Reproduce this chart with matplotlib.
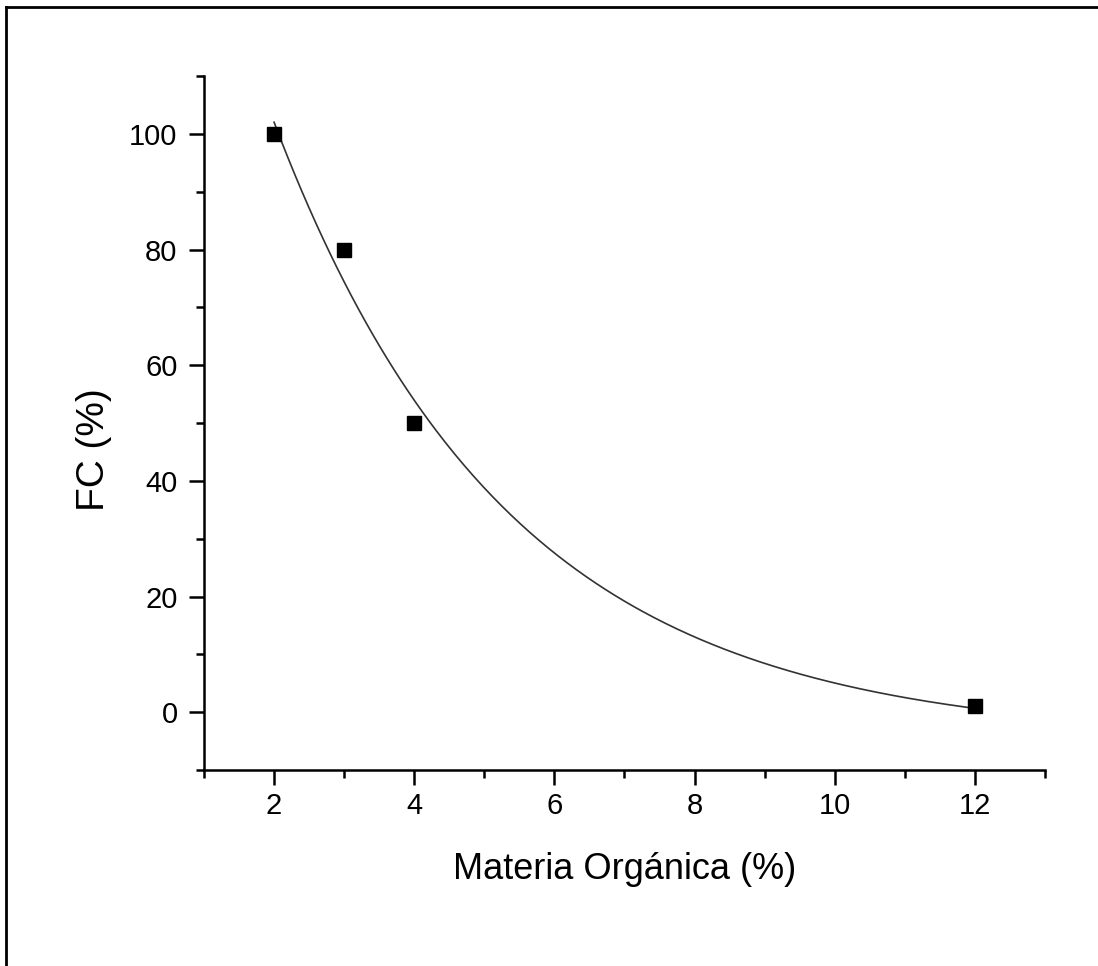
import matplotlib.pyplot as plt
import numpy as np
from matplotlib.lines import Line2D
from matplotlib.ticker import MultipleLocator

plt.rcParams['font.family'] = ['Liberation Sans', 'DejaVu Sans']

# data
materia = [2, 3, 4, 12]
fc = [100, 80, 50, 1]

# exponential decay fit  y = y0 + A*exp(-k*x)  (grid on k, linear lstsq for y0, A)
xd = np.array(materia, dtype=float)
yd = np.array(fc, dtype=float)
best = None
for k in np.linspace(0.05, 1.0, 4000):
    M = np.column_stack([np.ones_like(xd), np.exp(-k * xd)])
    coef, *_ = np.linalg.lstsq(M, yd, rcond=None)
    r = np.sum((M @ coef - yd) ** 2)
    if best is None or r < best[0]:
        best = (r, k, coef)
_, k, (y0, A) = best
xf = np.linspace(2, 12, 300)
yf = y0 + A * np.exp(-k * xf)

fig = plt.figure(figsize=(10.98, 9.66), dpi=100)
ax = fig.add_axes([0.1858, 0.2029, 0.9517 - 0.1858, 0.9213 - 0.2029])

ax.plot(xf, yf, color='#333333', lw=1.2)
ax.plot(materia, fc, 's', color='black', ms=10)

ax.set_xlim(1, 13)
ax.set_ylim(-10, 110)
ax.xaxis.set_major_locator(MultipleLocator(2))
ax.xaxis.set_minor_locator(MultipleLocator(1))
ax.yaxis.set_major_locator(MultipleLocator(20))
ax.yaxis.set_minor_locator(MultipleLocator(10))

for s in ['top', 'right']:
    ax.spines[s].set_visible(False)
for s in ['left', 'bottom']:
    ax.spines[s].set_linewidth(1.8)
ax.tick_params(which='major', direction='out', length=11, width=1.8, labelsize=21)
ax.tick_params(which='minor', direction='out', length=6, width=1.8)
ax.tick_params(axis='x', which='major', pad=5)
ax.tick_params(axis='y', which='major', pad=8)

ax.set_xlabel('Materia Orgánica (%)', fontsize=26)
ax.set_ylabel('FC (%)', fontsize=28)
ax.xaxis.set_label_coords(0.5, -0.144)
ax.xaxis.label.set_va('center')
ax.yaxis.set_label_coords(-0.131, 0.461)
ax.yaxis.label.set_va('center')

# frame around the figure (top and left edges visible)
fig.lines.append(Line2D([6 / 1098, 6 / 1098], [0, 1 - 7 / 966],
                        transform=fig.transFigure, color='black', lw=2))
fig.lines.append(Line2D([6 / 1098, 1], [1 - 7 / 966, 1 - 7 / 966],
                        transform=fig.transFigure, color='black', lw=2))

fig.savefig('out.png', dpi=100)
